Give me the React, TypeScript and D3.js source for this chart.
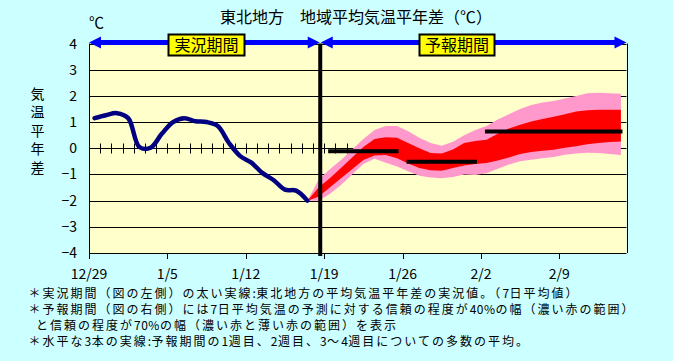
import React from 'react';
import * as d3 from 'd3';

// 7日平均気温平年差 (12/29 を 0 日目とする)
const dateLabels = ['12/29', '1/5', '1/12', '1/19', '1/26', '2/2', '2/9'];
const dateTickDays = [0, 7, 14, 21, 28, 35, 42];
const yTicks = [-4, -3, -2, -1, 0, 1, 2, 3, 4];

// 実況 (0日目〜19日目)
const observed = [
  1.15, 1.26, 1.34, 1.15, 0.05, 0.02, 0.55, 1.0, 1.15, 1.03,
  1.0, 0.85, 0.2, -0.3, -0.55, -0.95, -1.22, -1.58, -1.62, -2.0,
];

// 予報 (19日目〜47日目)
const forecastStart = 19;
const upper70 = [
  -2.0, -1.2, -0.8, -0.45, -0.05, 0.35, 0.7, 0.85, 0.85, 0.65,
  0.4, 0.2, 0.1, 0.25, 0.5, 0.7, 0.85, 1.1, 1.3, 1.5,
  1.65, 1.75, 1.8, 1.9, 2.0, 2.1, 2.12, 2.1, 2.08,
];
const upper40 = [
  -2.0, -1.5, -1.15, -0.75, -0.35, 0.05, 0.35, 0.42, 0.4, 0.2,
  0.0, -0.18, -0.2, -0.05, 0.2, 0.28, 0.32, 0.55, 0.75, 0.9,
  1.02, 1.12, 1.2, 1.3, 1.4, 1.45, 1.47, 1.47, 1.47,
];
const lower40 = [
  -2.0, -1.85, -1.5, -1.15, -0.8, -0.45, -0.28, -0.26, -0.38, -0.58,
  -0.75, -0.84, -0.86, -0.75, -0.66, -0.6, -0.56, -0.47, -0.35, -0.22,
  -0.14, -0.1, -0.06, 0.02, 0.08, 0.15, 0.2, 0.24, 0.26,
];
const lower70 = [
  -2.0, -2.0, -1.75, -1.4, -1.0, -0.6, -0.4, -0.55, -0.7, -0.88,
  -1.05, -1.12, -1.15, -1.1, -1.0, -1.02, -0.95, -0.78, -0.62, -0.5,
  -0.44, -0.38, -0.33, -0.25, -0.2, -0.17, -0.18, -0.22, -0.26,
];

// 1週目, 2週目, 3〜4週目の平均
const weekStart = [21, 28, 35];
const weekEnd = [27, 34, 47];
const weekMean = [-0.11, -0.52, 0.64];

const dividerDay = 20.65;
const totalDays = 48;

const notes = [
  '＊実況期間（図の左側）の太い実線:東北地方の平均気温平年差の実況値。（7日平均値）',
  '＊予報期間（図の右側）には7日平均気温の予測に対する信頼の程度が40%の幅（濃い赤の範囲）',
  'と信頼の程度が70%の幅（濃い赤と薄い赤の範囲）を表示',
  '＊水平な3本の実線:予報期間の1週目、2週目、3～4週目についての多数の平均。',
];

const FONT = '"Noto Sans CJK JP", "Noto Sans", sans-serif';

const App = () => {
  const width = 673;
  const height = 361;

  const x = d3.scaleLinear().domain([0, totalDays]).range([89, 626.5]);
  const y = d3.scaleLinear().domain([-4, 4]).range([253, 43.5]);
  const cy = (v: number) => Math.round(y(v)) + 0.5;
  const cx = (d: number) => Math.round(x(d)) + 0.5;

  const band = (hi: number[], lo: number[]) =>
    d3.area<number>()
      .x((_, i) => x(forecastStart + i + 0.5))
      .y0((_, i) => y(lo[i]))
      .y1((d) => y(d))(hi) || '';

  const obsLine = d3.line<number>()
    .x((_, i) => x(i + 0.5))
    .y((d) => y(d))
    .curve(d3.curveCatmullRom.alpha(0.5))(observed) || '';

  const left = x(0);
  const right = x(totalDays);
  const top = y(4);
  const bottom = y(-4);
  const divX = x(dividerDay);
  const arrowY = 42.5;

  const arrow = (x1: number, x2: number) => (
    <g fill="#0000ff">
      <rect x={x1 + 10} y={arrowY - 2.5} width={x2 - x1 - 20} height={5} />
      <polygon points={`${x1},${arrowY} ${x1 + 12},${arrowY - 6} ${x1 + 12},${arrowY + 6}`} />
      <polygon points={`${x2},${arrowY} ${x2 - 12},${arrowY - 6} ${x2 - 12},${arrowY + 6}`} />
    </g>
  );

  const yLabel = ['気', '温', '平', '年', '差'];

  // 半角の数字・記号は字間を詰める
  const noteParts = (n: string) =>
    n.split(/([0-9%:]+)/).filter((s) => s).map((s, j) => (
      <tspan key={j} letterSpacing={/^[0-9%:]+$/.test(s) ? 0.5 : 2}>{s}</tspan>
    ));

  return (
    <svg width={width} height={height} style={{ position: 'absolute', left: 0, top: 0, display: 'block' }}
      fontFamily={FONT}>
      <rect x={0} y={0} width={width} height={height} fill="#ccffff" />
      <rect x={left} y={top} width={right - left} height={bottom - top} fill="#ffffcc" />

      {/* grid */}
      {yTicks.map((t) => (
        <line key={t} x1={left} x2={right} y1={cy(t)} y2={cy(t)} stroke="#000" strokeWidth={1} />
      ))}
      {d3.range(1, 24).map((d) => (
        <line key={d} x1={cx(d)} x2={cx(d)} y1={cy(0) - 5} y2={cy(0) + 5} stroke="#000" strokeWidth={1} />
      ))}

      {/* forecast bands */}
      <path d={band(upper70, lower70)} fill="#ff99cc" />
      <path d={band(upper40, lower40)} fill="#ff0000" />

      {/* axes */}
      <line x1={cx(0)} x2={cx(0)} y1={top} y2={bottom} stroke="#000" />
      <line x1={cx(totalDays)} x2={cx(totalDays)} y1={top} y2={bottom} stroke="#000" />
      {dateTickDays.map((d) => (
        <line key={d} x1={cx(d)} x2={cx(d)} y1={bottom} y2={bottom + 6} stroke="#000" />
      ))}

      <path d={obsLine} fill="none" stroke="#000080" strokeWidth={4.5} strokeLinejoin="round" strokeLinecap="round" />

      {weekMean.map((v, i) => (
        <line key={i} x1={x(weekStart[i]) + 4} x2={x(weekEnd[i] + 1) - 4} y1={y(v)} y2={y(v)}
          stroke="#000" strokeWidth={4} />
      ))}

      <line x1={divX} x2={divX} y1={top} y2={bottom + 3} stroke="#000" strokeWidth={4} />

      {arrow(left, divX - 0.5)}
      {arrow(divX + 0.5, right)}

      <rect x={168.5} y={34.5} width={76} height={21} fill="#ffff00" stroke="#000" strokeWidth={2} />
      <text x={206.5} y={51} textAnchor="middle" fontSize={16} fill="#000">実況期間</text>
      <rect x={419.5} y={34.5} width={75} height={21} fill="#ffff00" stroke="#000" strokeWidth={2} />
      <text x={457} y={51} textAnchor="middle" fontSize={16} fill="#000">予報期間</text>

      {/* labels */}
      <text x={220} y={23} fontSize={16} fill="#000">東北地方　地域平均気温平年差（℃）</text>
      <text x={89} y={28} fontSize={15} fill="#000">℃</text>
      {yLabel.map((c, i) => (
        <text key={c} x={37.5} y={98.5 + i * 18.6} textAnchor="middle" fontSize={14} fill="#000">{c}</text>
      ))}
      {yTicks.map((t) => (
        <text key={t} x={77} y={y(t) + 5} textAnchor="end" fontSize={14} fill="#000">
          {t < 0 ? `−${-t}` : t}
        </text>
      ))}
      {dateLabels.map((lab, i) => (
        <text key={lab} x={x(dateTickDays[i])} y={279} textAnchor="middle" fontSize={14} fill="#000">{lab}</text>
      ))}

      {notes.map((n, i) => (
        <text key={i} x={i === 2 ? 36 : 28.5} y={297.5 + i * 16.3} fontSize={12} fill="#000">{noteParts(n)}</text>
      ))}
    </svg>
  );
};

export default App;
